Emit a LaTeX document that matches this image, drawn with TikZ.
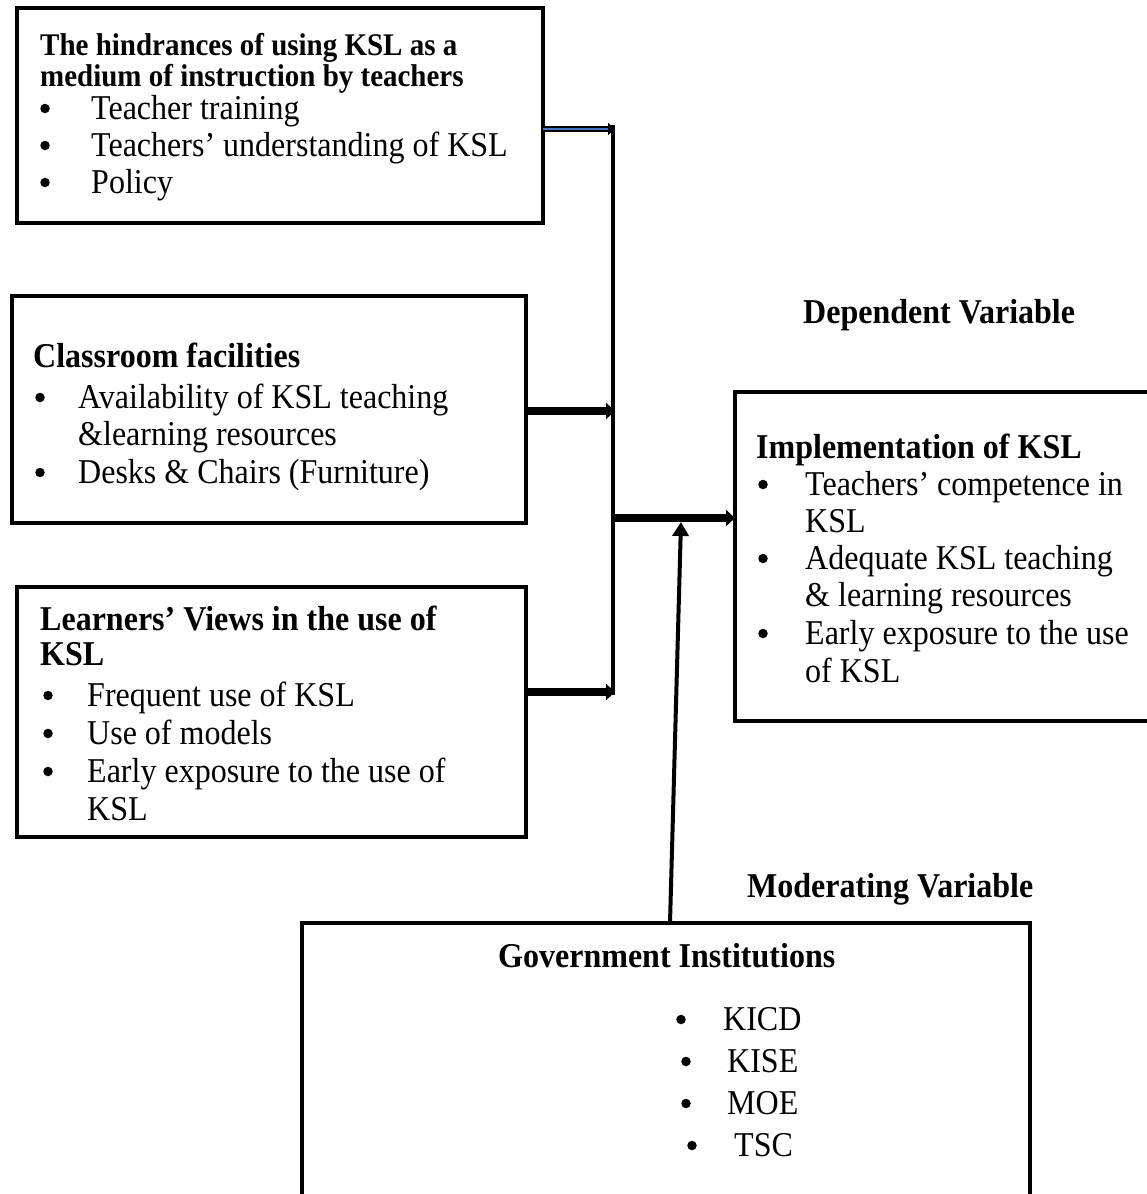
\documentclass[tikz,border=0pt]{standalone}
\usepackage{fontspec}
\setmainfont{Liberation Serif}[FakeStretch=0.92]
\usetikzlibrary{arrows.meta}
\definecolor{linkblue}{RGB}{68,114,196}
\begin{document}
\begin{tikzpicture}[x=1pt,y=-1pt,
  box/.style={draw, line width=3.5pt, anchor=north west, inner sep=0pt, outer sep=0pt},
  ttl/.style={anchor=base west, inner sep=0pt, font=\bfseries\fontsize{34.8}{40}\selectfont},
  ttlsmall/.style={anchor=base west, inner sep=0pt, font=\bfseries\fontsize{31.5}{34}\selectfont},
  txt/.style={anchor=base west, inner sep=0pt, font=\fontsize{34.8}{40}\selectfont},
  dot/.style={circle, fill=black, inner sep=0pt, minimum size=9.5pt, yshift=10.5pt},
  thickarrow/.style={line width=8pt, -{Triangle[length=9pt,width=16pt]}},
  busline/.style={line width=4pt},
]
\fill[white] (0,0) rectangle (1147,1194);
\useasboundingbox (0,0) rectangle (1147,1194);

% ---- Box 1
\node[box, minimum width=526pt, minimum height=215pt] (b1) at (17,8) {};
\node[ttlsmall] (t1a) at (40,55) {The hindrances of using KSL as a};
\node[ttlsmall] (t1b) at (40,86) {medium of instruction by teachers};
\node[dot] (d1a) at (45,119) {}; \node[txt] (l1a) at (91,119) {Teacher training};
\node[dot] (d1b) at (45,156) {}; \node[txt] (l1b) at (91,156) {Teachers’ understanding of KSL};
\node[dot] (d1c) at (45,193) {}; \node[txt] (l1c) at (91,193) {Policy};

% ---- Box 2
\node[box, minimum width=514pt, minimum height=227pt] (b2) at (12,296) {};
\node[ttl] (t2) at (33,367) {Classroom facilities};
\node[dot] (d2a) at (40,408) {}; \node[txt] (l2a) at (78,408) {Availability of KSL teaching};
\node[txt] (l2b) at (78,445) {\&learning resources};
\node[dot] (d2c) at (40,483) {}; \node[txt] (l2c) at (78,483) {Desks \& Chairs (Furniture)};

% ---- Box 3
\node[box, minimum width=509pt, minimum height=250pt] (b3) at (17,587) {};
\node[ttl] (t3a) at (40,630) {Learners’ Views in the use of};
\node[ttl] (t3b) at (40,665) {KSL};
\node[dot] (d3a) at (48,706) {}; \node[txt] (l3a) at (87,706) {Frequent use of KSL};
\node[dot] (d3b) at (48,744) {}; \node[txt] (l3b) at (87,744) {Use of models};
\node[dot] (d3c) at (48,782) {}; \node[txt] (l3c) at (87,782) {Early exposure to the use of};
\node[txt] (l3d) at (87,820) {KSL};

% ---- Box 4
\node[box, minimum width=425pt, minimum height=329pt] (b4) at (735,392) {};
\node[ttl] (t4) at (756,458) {Implementation of KSL};
\node[dot] (d4a) at (763,495) {}; \node[txt] (l4a) at (805,495) {Teachers’ competence in};
\node[txt] (l4b) at (805,532) {KSL};
\node[dot] (d4c) at (763,569) {}; \node[txt] (l4c) at (805,569) {Adequate KSL teaching};
\node[txt] (l4d) at (805,606) {\& learning resources};
\node[dot] (d4e) at (763,644) {}; \node[txt] (l4e) at (805,644) {Early exposure to the use};
\node[txt] (l4f) at (805,682) {of KSL};

% ---- Labels
\node[ttl] (dv) at (803,323) {Dependent Variable};
\node[ttl] (mv) at (747,897) {Moderating Variable};

% ---- Box 5
\node[box, minimum width=728pt, minimum height=290pt] (b5) at (302,923) {};
\node[ttl] (t5) at (498,967) {Government Institutions};
\node[dot] (d5a) at (681,1030) {}; \node[txt] (l5a) at (723,1030) {KICD};
\node[dot] (d5b) at (686,1072) {}; \node[txt] (l5b) at (727,1072) {KISE};
\node[dot] (d5c) at (686,1114) {}; \node[txt] (l5c) at (727,1114) {MOE};
\node[dot] (d5d) at (692,1156) {}; \node[txt] (l5d) at (734,1156) {TSC};

% ---- Connectors
\coordinate (bustop) at (613,125);
\coordinate (bus1) at (615,129);
\coordinate (bus2) at (615,411);
\coordinate (bus3) at (615,692);
\coordinate (busbot) at (613,695);
\coordinate (busout) at (613,518);
\coordinate (modtip) at (681,522);

\draw[busline] (bustop) -- (busbot);
\draw[line width=6pt, -{Triangle[length=7pt,width=12pt]}] (b1.east |- bus1) -- (bus1);
\draw[line width=2pt, linkblue] (b1.east |- bus1) -- ([xshift=-7pt]bus1);
\draw[thickarrow] (b2.east |- bus2) -- (bus2);
\draw[thickarrow] (b3.east |- bus3) -- (bus3);
\draw[thickarrow] (busout) -- (b4.west |- busout);
\draw[line width=4pt, -{Triangle[length=14pt,width=16pt]}] ([xshift=4pt]b5.north) -- (modtip);
\end{tikzpicture}
\end{document}
